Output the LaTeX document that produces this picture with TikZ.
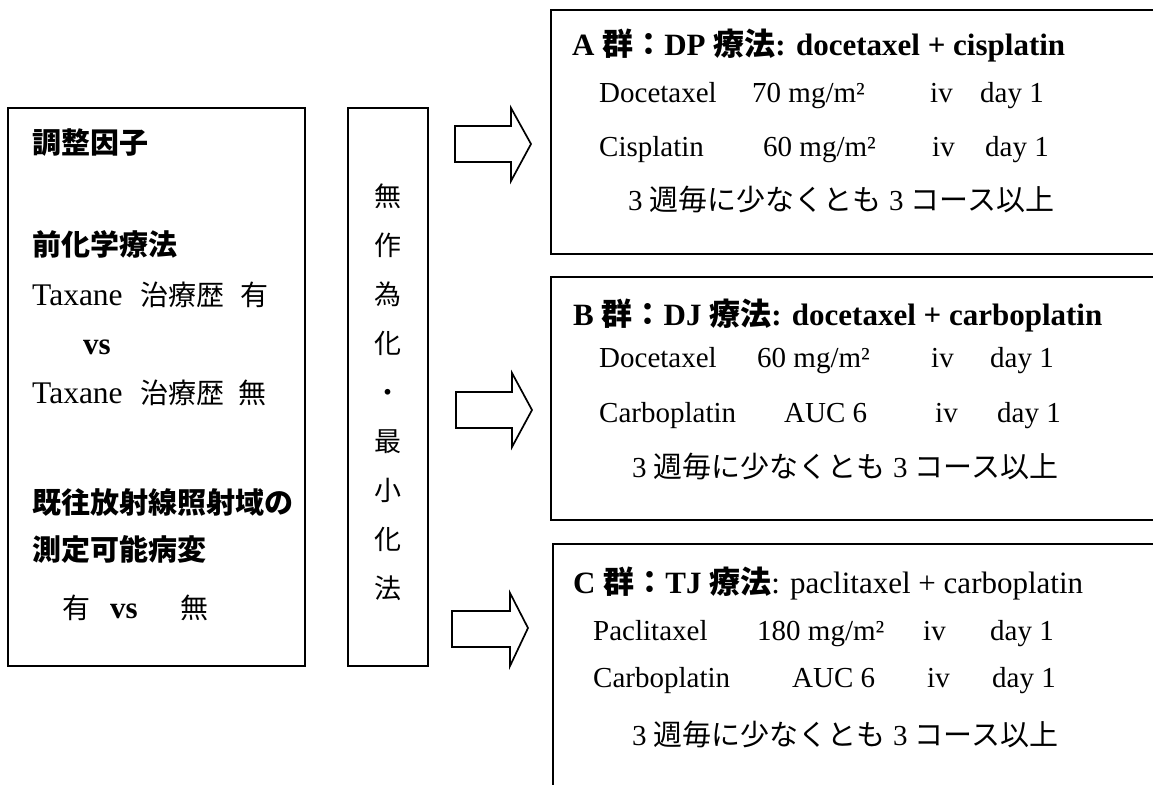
\documentclass[tikz,border=0pt]{standalone}
\usepackage{fontspec}
\setmainfont{Liberation Serif}
\newfontfamily\jp{Noto Sans CJK JP}
\tikzset{
  frame/.style={draw, line width=1.7pt, inner sep=0pt, fill=white},
  lbl/.style={inner sep=0pt, anchor=base west, font=\fontsize{29}{34}\selectfont},
  ttl/.style={inner sep=0pt, anchor=base west, font=\fontsize{31}{36}\selectfont\bfseries},
  hd/.style={inner sep=0pt, anchor=base west, font=\fontsize{29}{34}\selectfont\bfseries\jp},
  lt/.style={inner sep=0pt, anchor=base west, font=\fontsize{31.5}{34}\selectfont},
  vsb/.style={inner sep=0pt, anchor=base west, font=\fontsize{31}{34}\selectfont\bfseries},
  ljp/.style={inner sep=0pt, anchor=base west, font=\fontsize{28}{34}\selectfont\jp},
  blockarrow/.style={draw, line width=1.7pt, line join=miter, fill=white}
}
\begin{document}
\begin{tikzpicture}[x=1pt,y=-1pt]
\useasboundingbox (0,0) rectangle (1153,784);
\clip (0,0) rectangle (1153,784);
\fill[white] (0,0) rectangle (1153,784);

% frames
\node[frame, minimum width=297pt, minimum height=558pt] (adj) at (156.5,387) {};
\node[frame, minimum width=80pt, minimum height=558pt] (rand) at (388,387) {};
\node[frame, minimum width=619pt, minimum height=244pt] (grA) at (860.5,132) {};
\node[frame, minimum width=619pt, minimum height=243pt] (grB) at (860.5,398.5) {};
\node[frame, minimum width=617pt, minimum height=256pt] (grC) at (861.5,672) {};

% left box text
\node[hd] (adjT) at (32,153) {調整因子};
\node[hd] (pre) at (32,255) {前化学療法};
\node[lt] (tx1) at (32,305) {Taxane};
\node[ljp] (tx1j) at (140,305) {治療歴};
\node[ljp] (tx1y) at (240,305) {有};
\node[vsb] (vs1) at (83,354) {vs};
\node[lt] (tx2) at (32,403) {Taxane};
\node[ljp] (tx2j) at (140,403) {治療歴};
\node[ljp] (tx2n) at (238,403) {無};
\node[hd] (rad1) at (32,513) {既往放射線照射域の};
\node[hd] (rad2) at (32,560) {測定可能病変};
\node[ljp] (ry) at (62,618) {有};
\node[vsb] (rvs) at (110,618) {vs};
\node[ljp] (rn) at (180,618) {無};

% middle column
\node[inner sep=0pt, align=center, font=\fontsize{27}{49}\selectfont\jp] (randtxt) at (388,392)
  {無\\作\\為\\化\\・\\最\\小\\化\\法};

% block arrows
\coordinate (arA) at (455,144);
\coordinate (arB) at (456,410);
\coordinate (arC) at (452,629);
\draw[blockarrow] (arA) ++(0,-18) -- ++(56,0) -- ++(0,-18) -- ++(20,36) -- ++(-20,37) -- ++(0,-19) -- ++(-56,0) -- cycle;
\draw[blockarrow] (arB) ++(0,-18) -- ++(56,0) -- ++(0,-19) -- ++(20,37) -- ++(-20,37) -- ++(0,-19) -- ++(-56,0) -- cycle;
\draw[blockarrow] (arC) ++(0,-18) -- ++(58,0) -- ++(0,-18) -- ++(18,35) -- ++(-18,38) -- ++(0,-19) -- ++(-58,0) -- cycle;

% group A
\node[ttl] (aT) at (572,56) {A {\jp 群：}DP {\jp 療法}: docetaxel + cisplatin};
\node[lbl] (a1n) at (599,102) {Docetaxel};
\node[lbl] (a1d) at (752,102) {70 mg/m²};
\node[lbl] (a1r) at (930,102) {iv};
\node[lbl] (a1t) at (980,102) {day 1};
\node[lbl] (a2n) at (599,156) {Cisplatin};
\node[lbl] (a2d) at (763,156) {60 mg/m²};
\node[lbl] (a2r) at (932,156) {iv};
\node[lbl] (a2t) at (985,156) {day 1};
\node[lbl] (a3) at (628,210) {3 {\jp 週毎に少なくとも} 3 {\jp コース以上}};

% group B
\node[ttl] (bT) at (573,325) {B {\jp 群：}DJ {\jp 療法}: docetaxel + carboplatin};
\node[lbl] (b1n) at (599,367) {Docetaxel};
\node[lbl] (b1d) at (757,367) {60 mg/m²};
\node[lbl] (b1r) at (931,367) {iv};
\node[lbl] (b1t) at (990,367) {day 1};
\node[lbl] (b2n) at (599,422) {Carboplatin};
\node[lbl] (b2d) at (784,422) {AUC 6};
\node[lbl] (b2r) at (935,422) {iv};
\node[lbl] (b2t) at (997,422) {day 1};
\node[lbl] (b3) at (632,477) {3 {\jp 週毎に少なくとも} 3 {\jp コース以上}};

% group C
\node[ttl] (cT) at (573,593) {C {\jp 群：}TJ {\jp 療法}\mdseries: paclitaxel + carboplatin};
\node[lbl] (c1n) at (593,640) {Paclitaxel};
\node[lbl] (c1d) at (757,640) {180 mg/m²};
\node[lbl] (c1r) at (923,640) {iv};
\node[lbl] (c1t) at (990,640) {day 1};
\node[lbl] (c2n) at (593,687) {Carboplatin};
\node[lbl] (c2d) at (792,687) {AUC 6};
\node[lbl] (c2r) at (927,687) {iv};
\node[lbl] (c2t) at (992,687) {day 1};
\node[lbl] (c3) at (632,745) {3 {\jp 週毎に少なくとも} 3 {\jp コース以上}};
\end{tikzpicture}
\end{document}
